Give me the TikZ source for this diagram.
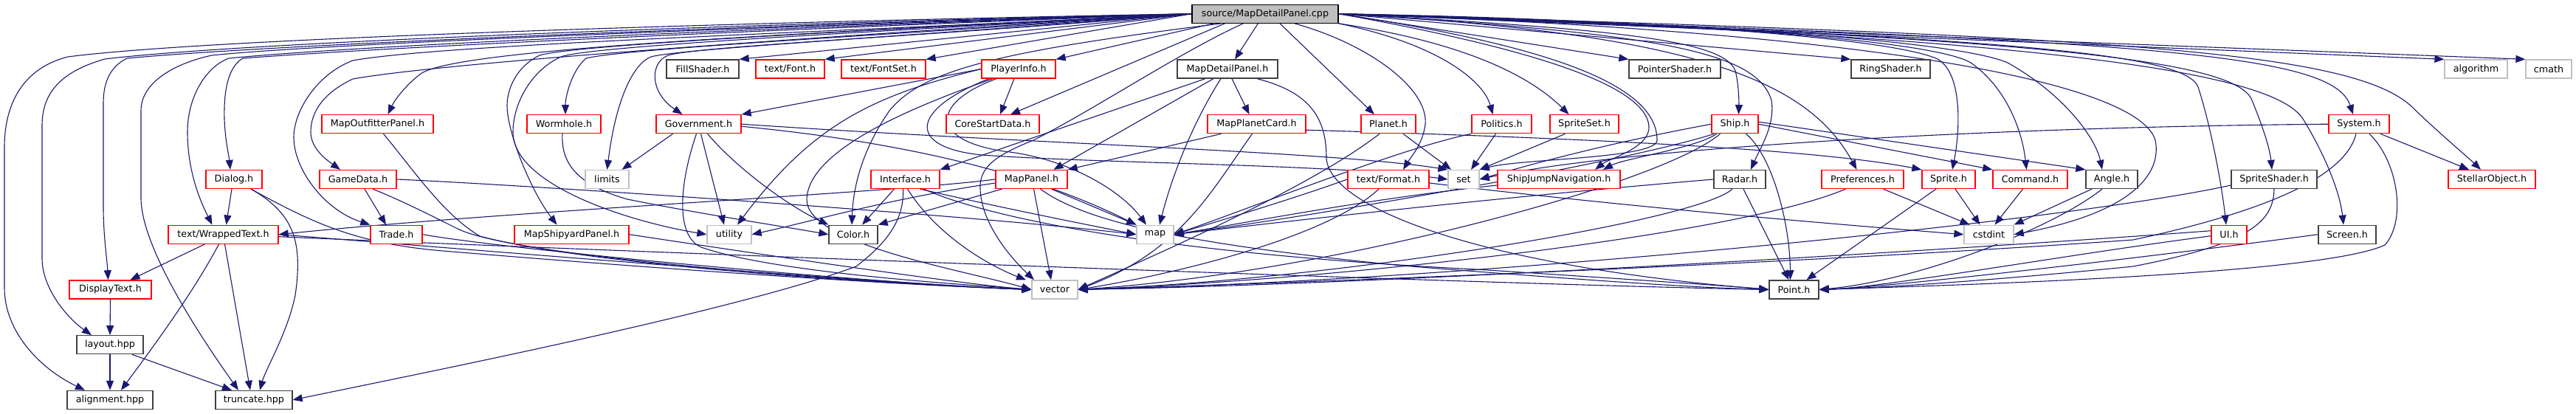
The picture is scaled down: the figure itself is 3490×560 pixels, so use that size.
\documentclass[tikz,border=0pt]{standalone}
\usepackage{fontspec}
\setmainfont{DejaVu Sans}
\usetikzlibrary{arrows.meta}
\definecolor{dxred}{HTML}{FF0000}
\definecolor{dxdark}{HTML}{404040}
\definecolor{dxgray}{HTML}{BFBFBF}
\definecolor{dxblue}{HTML}{191970}
\newcommand\fsz{\fontsize{12.7}{15}\selectfont}
\pgfdeclarelayer{bg}
\pgfsetlayers{bg,main}
\tikzset{
 nd/.style={draw, fill=white, line width=1.3pt, minimum height=25pt, inner sep=0pt, font=\fsz, text=black},
 rednd/.style={nd, draw=dxred},
 blknd/.style={nd, draw=dxdark},
 sysnd/.style={nd, draw=dxgray},
 srcnd/.style={nd, draw=black, fill=dxgray},
 edg/.style={draw=dxblue, line width=1.1pt, -{Triangle[length=13pt,width=10pt]}},
}
\begin{document}
\begin{tikzpicture}[x=1pt,y=-1pt]
\useasboundingbox (0,0) rectangle (3490,560);
% row 0
\node[srcnd, minimum width=198pt] (S) at (1714,18.7) {source/MapDetailPanel.cpp};
% row 1
\node[blknd, minimum width=98pt] (fill) at (952,93.5) {FillShader.h};
\node[rednd, minimum width=93pt] (font) at (1070.5,93.5) {text/Font.h};
\node[rednd, minimum width=114pt] (fontset) at (1197,93.5) {text/FontSet.h};
\node[rednd, minimum width=100pt] (player) at (1380,93.5) {PlayerInfo.h};
\node[blknd, minimum width=136pt] (mdph) at (1663,93.5) {MapDetailPanel.h};
\node[blknd, minimum width=124pt] (pointer) at (2269,93.5) {PointerShader.h};
\node[blknd, minimum width=107pt] (ring) at (2561.5,93.5) {RingShader.h};
\node[sysnd, minimum width=85pt] (algo) at (3354.5,93.5) {algorithm};
\node[sysnd, minimum width=62pt] (cmath) at (3453,93.5) {cmath};
% row 2
\node[rednd, minimum width=151pt] (outf) at (511.5,168.2) {MapOutfitterPanel.h};
\node[rednd, minimum width=100pt] (worm) at (764,168.2) {Wormhole.h};
\node[rednd, minimum width=115pt] (gov) at (946.5,168.2) {Government.h};
\node[rednd, minimum width=126pt] (core) at (1345,168.2) {CoreStartData.h};
\node[rednd, minimum width=133pt] (mpc) at (1702.5,168.2) {MapPlanetCard.h};
\node[rednd, minimum width=74pt] (planet) at (1881,168.2) {Planet.h};
\node[rednd, minimum width=81pt] (politics) at (2034.5,168.2) {Politics.h};
\node[rednd, minimum width=93pt] (spriteset) at (2146.5,168.2) {SpriteSet.h};
\node[rednd, minimum width=63pt] (ship) at (2350.5,168.2) {Ship.h};
\node[rednd, minimum width=82pt] (system) at (3196,168.2) {System.h};
% row 3
\node[rednd, minimum width=76pt] (dialog) at (317,243) {Dialog.h};
\node[rednd, minimum width=104pt] (gamedata) at (485,243) {GameData.h};
\node[sysnd, minimum width=59pt] (limits) at (822.5,243) {limits};
\node[rednd, minimum width=93pt] (iface) at (1226.5,243) {Interface.h};
\node[rednd, minimum width=97pt] (mappanel) at (1397.5,243) {MapPanel.h};
\node[rednd, minimum width=110pt] (format) at (1881,243) {text/Format.h};
\node[sysnd, minimum width=42pt] (setn) at (1983,243) {set};
\node[rednd, minimum width=166pt] (sjn) at (2112,243) {ShipJumpNavigation.h};
\node[blknd, minimum width=70pt] (radar) at (2357,243) {Radar.h};
\node[rednd, minimum width=111pt] (prefs) at (2523.5,243) {Preferences.h};
\node[rednd, minimum width=72pt] (sprite) at (2640,243) {Sprite.h};
\node[rednd, minimum width=101pt] (command) at (2750.5,243) {Command.h};
\node[blknd, minimum width=70pt] (angle) at (2861,243) {Angle.h};
\node[blknd, minimum width=116pt] (sshader) at (3081,243) {SpriteShader.h};
\node[rednd, minimum width=118pt] (stellar) at (3376,243) {StellarObject.h};
% row 4
\node[rednd, minimum width=149pt] (wrapped) at (302.5,317.7) {text/WrappedText.h};
\node[rednd, minimum width=70pt] (trade) at (537,317.7) {Trade.h};
\node[rednd, minimum width=155pt] (shipyard) at (774.5,317.7) {MapShipyardPanel.h};
\node[sysnd, minimum width=60pt] (utility) at (988,317.7) {utility};
\node[blknd, minimum width=66pt] (color) at (1156,317.7) {Color.h};
\node[sysnd, minimum width=50pt] (map) at (1565,317.7) {map};
\node[sysnd, minimum width=67pt] (cstdint) at (2694.5,317.7) {cstdint};
\node[rednd, minimum width=48pt] (ui) at (3020,317.7) {UI.h};
\node[blknd, minimum width=78pt] (screen) at (3180,317.7) {Screen.h};
% row 5
\node[rednd, minimum width=111pt] (display) at (149.5,392.4) {DisplayText.h};
\node[sysnd, minimum width=62pt] (vec) at (1429,392.4) {vector};
\node[blknd, minimum width=67pt] (pt) at (2430.5,392.4) {Point.h};
% row 6-7
\node[blknd, minimum width=90pt] (layout) at (149,467.2) {layout.hpp};
\node[blknd, minimum width=116pt] (align) at (149,541.9) {alignment.hpp};
\node[blknd, minimum width=104pt] (trunc) at (344,541.9) {truncate.hpp};

\begin{pgfonlayer}{bg}
% ---- source, left side
\draw[edg] (S.west) .. controls (1100,28) and (300,50) .. (92,77) .. controls (40,90) and (6,130) .. (6,200) -- (6,390) .. controls (6,450) and (55,500) .. ([xshift=-34]align.north);
\draw[edg] (S.west) .. controls (1100,30) and (350,55) .. (142,80) .. controls (90,95) and (57,120) .. (57,170) -- (57,350) .. controls (57,390) and (90,430) .. ([xshift=-25]layout.north);
\draw[edg] (S.west) .. controls (1100,32) and (400,58) .. (172,79) .. controls (150,90) and (140,110) .. (140,140) -- (140,280) .. controls (140,320) and (145,350) .. ([xshift=-3]display.north);
\draw[edg] (S.west) .. controls (1100,34) and (450,58) .. (287,75) .. controls (240,85) and (191,110) .. (191,150) -- (191,268) .. controls (191,330) and (260,440) .. ([xshift=-21]trunc.north);
\draw[edg] (S.west) .. controls (1100,36) and (500,60) .. (310,79) .. controls (280,90) and (254,130) .. (254,179) .. controls (254,230) and (270,270) .. ([xshift=-15]wrapped.north);
\draw[edg] (S.west) .. controls (1100,38) and (550,62) .. (329,79) .. controls (310,90) and (303,120) .. (304,161) .. controls (305,190) and (310,210) .. ([xshift=-5]dialog.north);
\draw[edg] (S.west) .. controls (1100,45) and (600,60) .. (478,82) .. controls (430,100) and (398,150) .. (398,186) .. controls (398,230) and (440,285) .. (trade.north west);
\draw[edg] (S.west) .. controls (1100,50) and (600,85) .. (478,107) .. controls (440,125) and (421,150) .. (421,179) .. controls (421,200) and (440,215) .. ([xshift=-24]gamedata.north);
\draw[edg] (S.west) .. controls (1100,45) and (620,65) .. (570,100) .. controls (550,115) and (535,135) .. ([xshift=14]outf.north);
\draw[edg] (S.west) .. controls (1200,40) and (780,60) .. (731,75) .. controls (700,90) and (687,120) .. (687,143) .. controls (687,180) and (720,260) .. ([xshift=-20]shipyard.north);
\draw[edg] (S.west) .. controls (1200,42) and (800,62) .. (760,77) .. controls (720,95) and (695,140) .. (695,179) .. controls (695,250) and (850,300) .. (utility.west);
\draw[edg] (S.west) .. controls (1250,45) and (850,65) .. (794,79) .. controls (775,95) and (766,130) .. ([xshift=2]worm.north);
\draw[edg] (S.west) .. controls (1250,48) and (920,66) .. (882,77) .. controls (860,85) and (835,130) .. (limits.north);
\draw[edg] (S.west) .. controls (1250,50) and (950,62) .. (905,75) .. controls (880,85) and (880,125) .. ([xshift=-22]gov.north);
\draw[edg] (S.west) -- (fill.north east);
\draw[edg] (S.west) -- (font.north east);
\draw[edg] (S.west) -- (fontset.north east);
\draw[edg] ([xshift=30]S.south west) -- (player.north east);
\draw[edg] ([xshift=45]S.south west) -- ([xshift=24]core.north);
\draw[edg] ([xshift=40]S.south west) .. controls (1350,70) and (1250,95) .. (1205,150) .. controls (1170,200) and (1156,250) .. ([xshift=-2]color.north);
\draw[edg] ([xshift=70]S.south west) .. controls (1600,70) and (1480,150) .. (1400,190) .. controls (1350,210) and (1330,225) .. (1328,250) .. controls (1326,300) and (1370,350) .. ([xshift=-28]vec.north);
\draw[edg] ([xshift=90]S.south west) -- ([xshift=10]mdph.north);
% ---- source, right side
\draw[edg] ([xshift=20]S.south) -- ([xshift=-19]planet.north);
\draw[edg] ([xshift=40]S.south) .. controls (1855,60) and (1935,120) .. (1931,168) .. controls (1928,195) and (1910,215) .. ([xshift=20]format.north);
\draw[edg] (S.south east) .. controls (1950,60) and (2010,110) .. ([xshift=-12]politics.north);
\draw[edg] (S.south east) .. controls (2000,60) and (2080,110) .. ([xshift=-21]spriteset.north);
\draw[edg] (S.east) .. controls (2100,70) and (2230,120) .. (2234,171) .. controls (2236,200) and (2180,215) .. ([xshift=49]sjn.north);
\draw[edg] (S.east) .. controls (2120,65) and (2245,120) .. (2245,190) .. controls (2245,215) and (2060,215) .. (setn.north east);
\draw[edg] (S.east) -- (pointer.north west);
\draw[edg] (S.east) .. controls (2200,40) and (2345,55) .. (2352,100) .. controls (2356,120) and (2356,140) .. ([xshift=5]ship.north);
\draw[edg] (S.east) .. controls (2250,45) and (2380,70) .. (2400,136) .. controls (2405,170) and (2385,200) .. ([xshift=15]radar.north);
\draw[edg] (S.east) -- (ring.north west);
\draw[edg] (S.east) .. controls (2300,45) and (2450,110) .. ([xshift=-8]prefs.north);
\draw[edg] (S.east) .. controls (2200,25) and (2560,50) .. (2625,80) .. controls (2660,100) and (2655,180) .. ([xshift=5]sprite.north);
\draw[edg] (S.east) .. controls (2300,30) and (2620,55) .. (2670,85) .. controls (2720,120) and (2740,180) .. ([xshift=-5]command.north);
\draw[edg] (S.east) .. controls (2300,30) and (2650,55) .. (2720,85) .. controls (2800,130) and (2840,190) .. ([xshift=-13]angle.north);
\draw[edg] (S.east) .. controls (2600,45) and (2900,120) .. (2920,190) .. controls (2930,240) and (2880,290) .. (cstdint.east);
\draw[edg] (S.east) .. controls (2700,50) and (2960,70) .. (2978,118) .. controls (2995,170) and (3010,250) .. ([xshift=-4]ui.north);
\draw[edg] (S.east) .. controls (2750,50) and (3030,80) .. (3051,136) .. controls (3065,170) and (3075,200) .. ([xshift=-3]sshader.north);
\draw[edg] (S.east) .. controls (2800,50) and (3080,100) .. (3120,161) .. controls (3150,210) and (3170,260) .. ([xshift=-5]screen.north);
\draw[edg] (S.east) .. controls (2900,55) and (3160,70) .. ([xshift=-8]system.north);
\draw[edg] (S.east) .. controls (2900,50) and (3200,70) .. (3273,150) .. controls (3310,185) and (3340,210) .. ([xshift=-15]stellar.north);
\draw[edg] (S.east) -- (algo.north west);
\draw[edg] (S.east) -- (cmath.north west);
% ---- MapDetailPanel.h
\draw[edg] ([xshift=-30]mdph.south) -- (iface.north east);
\draw[edg] ([xshift=-19]mdph.south) -- ([xshift=30]mappanel.north);
\draw[edg] ([xshift=-9]mdph.south) .. controls (1620,160) and (1590,230) .. ([xshift=6]map.north);
\draw[edg] ([xshift=6]mdph.south) -- ([xshift=-10]mpc.north);
\draw[edg] ([xshift=40]mdph.south) .. controls (1775,125) and (1797,160) .. (1797,214) .. controls (1800,280) and (2000,360) .. (pt.west);
% ---- MapPlanetCard.h
\draw[edg] ([xshift=-48]mpc.south) -- (mappanel.north east);
\draw[edg] ([xshift=-6]mpc.south) .. controls (1640,260) and (1600,340) .. (vec.east);
\draw[edg] ([yshift=-8]mpc.east) .. controls (2100,186) and (2450,200) .. (sprite.north west);
% ---- PlayerInfo.h
\draw[edg] ([xshift=-6]player.south) -- ([xshift=10]core.north);
\draw[edg] (player.west) -- (gov.north east);
\draw[edg] (player.west) .. controls (1180,130) and (1100,170) .. ([xshift=11]utility.north);
\draw[edg] ([xshift=-35]player.south) .. controls (1250,140) and (1095,200) .. (1093,270) .. controls (1092,330) and (1300,365) .. (vec.west);
\draw[edg] ([xshift=-40]player.south) .. controls (1230,150) and (1230,200) .. (1330,210) .. controls (1500,222) and (1800,222) .. (setn.west);
\draw[edg] ([xshift=-30]player.south) .. controls (1260,140) and (1260,190) .. (1360,205) .. controls (1450,215) and (1520,260) .. ([xshift=-12]map.north);
% ---- Government.h
\draw[edg] ([xshift=-35]gov.south) -- ([xshift=20]limits.north);
\draw[edg] ([xshift=3]gov.south) -- ([xshift=-7]utility.north);
\draw[edg] ([xshift=12]gov.south) .. controls (1000,230) and (1070,280) .. (color.north west);
\draw[edg] ([xshift=-3]gov.south) .. controls (920,250) and (915,320) .. (950,335) .. controls (1050,370) and (1300,385) .. (vec.west);
\draw[edg] (gov.east) .. controls (1400,195) and (1800,205) .. (setn.north west);
\draw[edg] ([yshift=-3]gov.east) .. controls (1300,200) and (1450,260) .. (map.north west);
% ---- Wormhole.h
\draw[edg] ([xshift=-2]worm.south) .. controls (760,220) and (780,250) .. (850,270) .. controls (950,290) and (1050,305) .. (color.west);
% ---- Interface.h
\draw[edg] ([xshift=-15]iface.south) -- ([xshift=12]color.north);
\draw[edg] ([xshift=3]iface.south) .. controls (1270,320) and (1340,360) .. ([xshift=-39]vec.north);
\draw[edg] ([xshift=20]iface.south) .. controls (1350,280) and (1450,300) .. (map.west);
\draw[edg] ([xshift=25]iface.south) .. controls (1350,300) and (1600,345) .. (2000,365) .. controls (2200,378) and (2350,388) .. (pt.west);
\draw[edg] ([xshift=-3]iface.south) .. controls (1225,300) and (1200,330) .. (1160,361) .. controls (1000,420) and (600,500) .. (trunc.east);
% ---- MapPanel.h
\draw[edg] ([xshift=27]mappanel.south) -- (map.north west);
\draw[edg] ([xshift=3]mappanel.south) -- ([xshift=-5]vec.north);
\draw[edg] ([xshift=-40]mappanel.south) -- (color.north east);
\draw[edg] (mappanel.west) .. controls (1200,262) and (700,285) .. (wrapped.east);
\draw[edg] ([yshift=-5]mappanel.west) .. controls (1200,270) and (1100,300) .. (utility.east);
\draw[edg] ([xshift=12]mappanel.south) .. controls (1470,300) and (1600,330) .. (1900,360) .. controls (2150,380) and (2300,390) .. (pt.west);
% ---- Dialog.h / GameData.h / Trade.h / panels
\draw[edg] ([xshift=-3]dialog.south) -- ([xshift=4]wrapped.north);
\draw[edg] ([xshift=23]dialog.south) .. controls (400,290) and (410,330) .. (400,400) .. controls (390,450) and (360,500) .. ([xshift=8]trunc.north);
\draw[edg] ([xshift=23]dialog.south) .. controls (420,300) and (480,330) .. (600,340) .. controls (900,365) and (1200,385) .. (vec.west);
\draw[edg] ([xshift=9]gamedata.south) -- ([xshift=-14]trade.north);
\draw[edg] ([xshift=20]gamedata.south) .. controls (540,270) and (580,290) .. (620,310) .. controls (700,350) and (1200,385) .. (vec.west);
\draw[edg] (gamedata.east) .. controls (700,250) and (1300,290) .. (map.west);
\draw[edg] (trade.east) .. controls (700,340) and (1200,385) .. (vec.west);
\draw[edg] ([xshift=8]outf.south) .. controls (560,230) and (600,290) .. (650,320) .. controls (800,360) and (1200,385) .. (vec.west);
\draw[edg] (shipyard.east) .. controls (1000,340) and (1300,385) .. (vec.west);
% ---- text
\draw[edg] ([xshift=-25]wrapped.south) -- ([xshift=27]display.north);
\draw[edg] ([xshift=-6]wrapped.south) .. controls (260,400) and (200,480) .. ([xshift=15]align.north);
\draw[edg] ([xshift=2]wrapped.south) -- ([xshift=-5]trunc.north);
\draw[edg] (wrapped.east) .. controls (600,335) and (1200,385) .. (vec.west);
\draw[edg] ([yshift=-3]wrapped.east) .. controls (700,335) and (2000,385) .. (pt.west);
\draw[edg] (display.south) -- (layout.north);
\draw[edg] (layout.south) -- (align.north);
\draw[edg] ([xshift=30]layout.south) -- ([xshift=-30]trunc.north);
% ---- middle right
\draw[edg] ([xshift=20]planet.south) -- ([xshift=-17]setn.north);
\draw[edg] ([xshift=-12]planet.south) .. controls (1780,250) and (1600,330) .. (vec.east);
\draw[edg] ([xshift=-8]politics.south) -- ([xshift=10]setn.north);
\draw[edg] (politics.south west) .. controls (1900,200) and (1700,280) .. (map.east);
\draw[edg] ([xshift=-26]spriteset.south) -- (setn.north east);
\draw[edg] (ship.west) .. controls (2200,190) and (2100,215) .. (setn.east);
\draw[edg] ([xshift=-25]ship.south) .. controls (2300,200) and (2200,215) .. ([xshift=60]sjn.north);
\draw[edg] ([xshift=15]ship.south) .. controls (2400,210) and (2425,300) .. ([xshift=-5]pt.north);
\draw[edg] ([xshift=-20]ship.south) .. controls (2250,250) and (1800,370) .. (vec.east);
\draw[edg] (ship.east) -- (command.north west);
\draw[edg] ([yshift=3]ship.east) -- (angle.north west);
\draw[edg] ([xshift=-28]ship.south) .. controls (2200,220) and (1800,290) .. (map.east);
\draw[edg] ([xshift=5]radar.south) -- ([xshift=-7]pt.north);
\draw[edg] ([xshift=-10]radar.south) .. controls (2300,300) and (1800,380) .. (vec.east);
\draw[edg] (radar.west) .. controls (2000,270) and (1700,305) .. (map.east);
\draw[edg] (format.west) .. controls (1750,270) and (1650,300) .. (map.east);
\draw[edg] ([xshift=-13]format.south) .. controls (1800,320) and (1600,370) .. (vec.east);
\draw[edg] ([yshift=-5]format.east) .. controls (2200,280) and (2500,305) .. (cstdint.west);
\draw[edg] ([yshift=-8]sjn.west) .. controls (1850,270) and (1700,300) .. (map.east);
\draw[edg] ([xshift=28]prefs.south) -- ([xshift=-26]cstdint.north);
\draw[edg] ([xshift=-23]prefs.south) .. controls (2350,320) and (1800,380) .. (vec.east);
\draw[edg] ([xshift=9]sprite.south) -- ([xshift=-12]cstdint.north);
\draw[edg] ([xshift=-17]sprite.south) -- ([xshift=17]pt.north);
\draw[edg] ([xshift=-10]command.south) -- ([xshift=8]cstdint.north);
\draw[edg] ([xshift=-27]angle.south) -- (cstdint.north east);
\draw[edg] ([xshift=-13]angle.south) .. controls (2780,310) and (2600,380) .. (pt.east);
% ---- far right
\draw[edg] ([xshift=29]system.south) -- ([xshift=-31]stellar.north);
\draw[edg] (system.west) .. controls (2700,172) and (2200,200) .. (setn.east);
\draw[edg] ([xshift=-4]system.south) .. controls (3180,230) and (3100,280) .. (2890,325) .. controls (2400,360) and (1700,385) .. (vec.east);
\draw[edg] ([xshift=14]system.south) .. controls (3250,220) and (3260,300) .. (3231,332) .. controls (3150,370) and (2700,385) .. (pt.east);
\draw[edg] (sshader.south) .. controls (3080,300) and (3050,330) .. (2890,361) .. controls (2700,380) and (2550,390) .. (pt.east);
\draw[edg] ([yshift=-8]sshader.west) .. controls (2800,300) and (2000,380) .. (vec.east);
\draw[edg] ([yshift=5]ui.west) .. controls (2700,335) and (1900,385) .. (vec.east);
\draw[edg] ([yshift=-2]ui.west) .. controls (2800,345) and (2550,390) .. (pt.east);
\draw[edg] (screen.west) .. controls (2900,350) and (2550,390) .. (pt.east);
\end{pgfonlayer}
\end{tikzpicture}
\end{document}
